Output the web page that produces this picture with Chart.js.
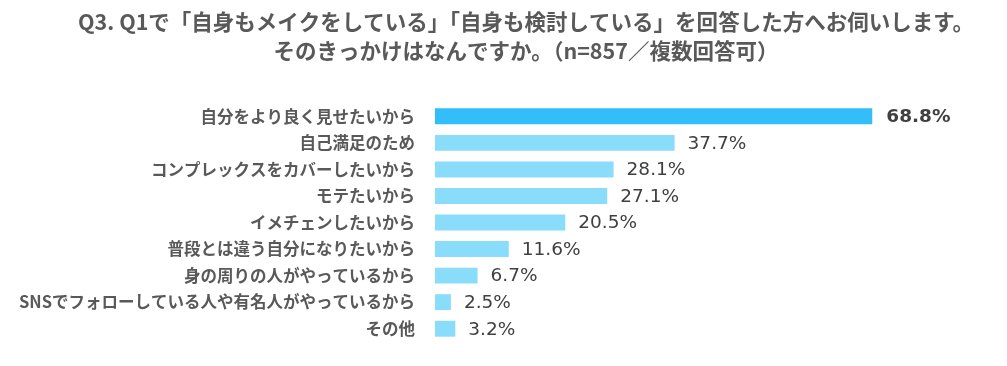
<!DOCTYPE html>
<html>
<head>
<meta charset="utf-8">
<script src="https://cdn.jsdelivr.net/npm/chart.js@4"></script>
<style>
  html, body { margin: 0; padding: 0; background: #fff; overflow: hidden; }
  canvas { display: block; }
</style>
</head>
<body>
<canvas id="reasonChart" width="1007" height="366"></canvas>
<script>
const titleLines = [
    'Q3. Q1で「自身もメイクをしている」「自身も検討している」を回答した方へお伺いします。',
    'そのきっかけはなんですか。（n=857／複数回答可）'
];
const categories = [
    '自分をより良く見せたいから',
    '自己満足のため',
    'コンプレックスをカバーしたいから',
    'モテたいから',
    'イメチェンしたいから',
    '普段とは違う自分になりたいから',
    '身の周りの人がやっているから',
    'SNSでフォローしている人や有名人がやっているから',
    'その他'
];
const values = [68.8, 37.7, 28.1, 27.1, 20.5, 11.6, 6.7, 2.5, 3.2];

const jpFont = '"Noto Sans CJK JP", "Noto Sans", sans-serif';
const numFont = '"DejaVu Sans", Verdana, sans-serif';

// value labels at the end of each bar
const valueLabels = {
    id: 'valueLabels',
    afterDatasetsDraw(chart) {
        const ctx = chart.ctx;
        const meta = chart.getDatasetMeta(0);
        ctx.save();
        ctx.textBaseline = 'middle';
        ctx.textAlign = 'left';
        ctx.fillStyle = '#404040';
        meta.data.forEach((bar, i) => {
            ctx.font = (i === 0 ? 'bold ' : '') + '18.5px ' + numFont;
            ctx.fillText(values[i].toFixed(1) + '%', bar.x + (i === 0 ? 14 : 13), bar.y + 1);
        });
        ctx.restore();
    }
};

const ctx = document.getElementById('reasonChart').getContext('2d');
new Chart(ctx, {
    type: 'bar',
    data: {
        labels: categories,
        datasets: [{
            data: values,
            backgroundColor: values.map((v, i) => i === 0 ? '#33BEF9' : '#8ADCFB'),
            borderWidth: 0,
            categoryPercentage: 0.6,
            barPercentage: 1
        }]
    },
    options: {
        indexAxis: 'y',
        responsive: false,
        animation: false,
        devicePixelRatio: 1,
        layout: {
            // negative right padding pushes the centred title to the right
            padding: { left: 0, right: -45, top: 0, bottom: 24 }
        },
        scales: {
            x: {
                display: false,
                min: 0,
                max: 90
            },
            y: {
                grid: { display: true, color: 'rgba(0,0,0,0)', drawTicks: true, tickLength: 20 },
                border: { display: false },
                ticks: {
                    padding: 0,
                    color: '#595959',
                    font: { family: jpFont, size: 16.5, weight: 'bold' }
                },
                afterFit(scale) {
                    scale.width = 435;
                }
            }
        },
        plugins: {
            legend: { display: false },
            tooltip: { enabled: false },
            title: {
                display: true,
                text: titleLines,
                color: '#595959',
                font: { family: jpFont, size: 21.5, weight: 'bold', lineHeight: 1.35 },
                padding: { top: 7, bottom: 38 }
            }
        }
    },
    plugins: [valueLabels]
});
</script>
</body>
</html>
